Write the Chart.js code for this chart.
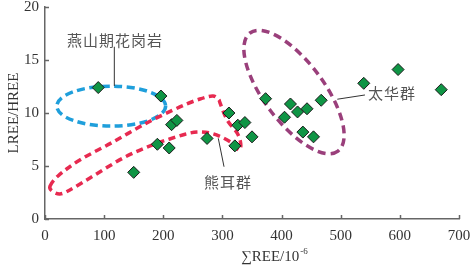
<!DOCTYPE html>
<html>
<head>
<meta charset="utf-8">
<script src="https://cdn.jsdelivr.net/npm/chart.js@4.4.1/dist/chart.umd.min.js"></script>
<style>
html,body{margin:0;padding:0;background:#fff;}
#wrap{width:472px;height:266px;}
</style>
</head>
<body>
<div id="wrap"><canvas id="c" width="472" height="266"></canvas></div>
<script>
// ---- data ----
const sumREE = [90,196,214,223,150,190,210,274,321,311,326,338,350,373,405,415,427,443,467,436,454,539,597,670];
const lreeHree = [12.4,11.6,8.9,9.3,4.4,7.05,6.7,7.6,6.9,10.0,8.85,9.1,7.75,11.35,9.6,10.85,10.1,10.4,11.2,8.2,7.75,12.8,14.1,12.2];
const xTicks = [0,100,200,300,400,500,600,700];
const yTicks = [0,5,10,15,20];

// group labels
const groupNames = ['燕山期花岗岩','熊耳群','太华群'];

// red (熊耳群) outline vertices, data units
const xiongerOutlineX = [8.5,22,59,115,172,228,262,284,294,296,308,325,331,328,316,298,279,257,237,211,181,132,76,42,25,12];
const xiongerOutlineY = [3.1,4.06,5.57,7.26,9.06,10.57,11.32,11.6,11.23,10.94,9.34,8.1,7.08,6.5,7.17,7.74,8.11,8.21,8.0,7.55,6.98,5.75,3.87,2.74,2.36,2.64];

// ellipses: centre in data units, radii in x-axis units, rotation in degrees
const yanshanEllipse = {cx:112, cy:10.65, rx:92, ry:33.8, rot:0};
const taihuaEllipse  = {cx:421, cy:11.98, rx:124.5, ry:50.7, rot:53.3};

// leader lines [x1,y1,x2,y2] in data units and label anchors
const leaderLines = [[117.2,16.25,117.2,12.55],[293,7.61,302.7,4.93],[494.2,11.3,541,11.7]];
const labelAnchors = [[118.4,16.9,'center'],[309.4,3.5,'center'],[546,11.86,'left']];

const annot = {
  id:'annot',
  beforeDatasetsDraw(chart){
    const {ctx, scales:{x,y}} = chart;
    const ux = Math.abs(x.getPixelForValue(1)-x.getPixelForValue(0));
    ctx.save();
    const drawEllipse = (e,color,dash)=>{
      ctx.beginPath();
      ctx.ellipse(x.getPixelForValue(e.cx), y.getPixelForValue(e.cy), e.rx*ux, e.ry*ux, e.rot*Math.PI/180, 0, Math.PI*2);
      ctx.strokeStyle=color; ctx.lineWidth=3.5; ctx.setLineDash(dash); ctx.stroke();
    };
    drawEllipse(yanshanEllipse,'#1f9fdb',[8,4.5]);
    drawEllipse(taihuaEllipse,'#9a3f7b',[8,5]);
    // red closed smooth outline (Catmull-Rom)
    const pts = xiongerOutlineX.map((v,i)=>[x.getPixelForValue(v), y.getPixelForValue(xiongerOutlineY[i])]);
    const n = pts.length;
    ctx.beginPath();
    ctx.moveTo(pts[0][0],pts[0][1]);
    for(let i=0;i<n;i++){
      const p0=pts[(i-1+n)%n], p1=pts[i], p2=pts[(i+1)%n], p3=pts[(i+2)%n];
      ctx.bezierCurveTo(p1[0]+(p2[0]-p0[0])/6, p1[1]+(p2[1]-p0[1])/6,
                        p2[0]-(p3[0]-p1[0])/6, p2[1]-(p3[1]-p1[1])/6, p2[0], p2[1]);
    }
    ctx.closePath();
    ctx.strokeStyle='#e72a50'; ctx.lineWidth=3.5; ctx.setLineDash([7,4.5]); ctx.stroke();
    // leader lines
    ctx.setLineDash([]);
    ctx.strokeStyle='#333'; ctx.lineWidth=1;
    leaderLines.forEach(l=>{
      ctx.beginPath();
      ctx.moveTo(x.getPixelForValue(l[0]), y.getPixelForValue(l[1]));
      ctx.lineTo(x.getPixelForValue(l[2]), y.getPixelForValue(l[3]));
      ctx.stroke();
    });
    // group labels
    ctx.fillStyle='#555';
    ctx.font='15px "Noto Sans CJK SC"';
    ctx.letterSpacing='1px';
    ctx.textBaseline='middle';
    labelAnchors.forEach((a,i)=>{
      ctx.textAlign=a[2];
      ctx.fillText(groupNames[i], x.getPixelForValue(a[0]), y.getPixelForValue(a[1]));
    });
    ctx.restore();
  },
  afterDraw(chart){
    const {ctx, scales:{x,y}} = chart;
    ctx.save();
    ctx.strokeStyle='#666'; ctx.lineWidth=1.5;
    xTicks.forEach(v=>{
      const px=Math.round(x.getPixelForValue(v))+0.5;
      ctx.beginPath(); ctx.moveTo(px, y.bottom); ctx.lineTo(px, y.bottom-4); ctx.stroke();
    });
    yTicks.forEach(v=>{
      const py=Math.round(y.getPixelForValue(v))+0.5;
      ctx.beginPath(); ctx.moveTo(x.left, py); ctx.lineTo(x.left+4, py); ctx.stroke();
    });
    // x axis title with superscript
    ctx.fillStyle='#333';
    ctx.textBaseline='alphabetic';
    ctx.textAlign='left';
    const main='∑REE/10', sup='-6';
    ctx.font='15px "Liberation Serif"';
    const w1=ctx.measureText(main).width;
    ctx.font='9px "Liberation Serif"';
    const w2=ctx.measureText(sup).width;
    const cx=x.getPixelForValue(387);
    const sx=cx-(w1+w2)/2;
    ctx.font='15px "Liberation Serif"';
    ctx.fillText(main, sx, 261);
    ctx.font='9px "Liberation Serif"';
    ctx.fillText(sup, sx+w1+1, 254);
    ctx.restore();
  }
};

const tickFont = {family:'"Liberation Serif"', size:15};
new Chart(document.getElementById('c'), {
  type:'scatter',
  data:{datasets:[{
    data: sumREE.map((v,i)=>({x:v, y:lreeHree[i]})),
    pointStyle:'rectRot', pointRadius:6, pointHoverRadius:6,
    backgroundColor:'#0f9545', borderColor:'#1a1a1a', borderWidth:1
  }]},
  options:{
    responsive:false, animation:false,
    layout:{padding:{top:7,right:13,left:0,bottom:0}},
    plugins:{legend:{display:false}, tooltip:{enabled:false}},
    scales:{
      x:{type:'linear', min:0, max:700,
        afterBuildTicks: s=>{ s.ticks = xTicks.map(v=>({value:v})); },
        ticks:{font:tickFont, color:'#333', padding:8, maxRotation:0},
        grid:{display:true, drawOnChartArea:false, drawTicks:false},
        border:{display:true, color:'#666', width:1.5},
        afterFit: s=>{ s.height=47; s.paddingLeft=0; s.paddingRight=0; }
      },
      y:{type:'linear', min:0, max:20,
        afterBuildTicks: s=>{ s.ticks = yTicks.map(v=>({value:v})); },
        ticks:{font:tickFont, color:'#333', padding:6},
        grid:{display:true, drawOnChartArea:false, drawTicks:false},
        border:{display:true, color:'#666', width:1.5},
        title:{display:true, text:'LREE/HREE', font:tickFont, color:'#333', padding:{top:5,bottom:0}},
        afterFit: s=>{ s.width=45; s.paddingTop=0; s.paddingBottom=0; }
      }
    }
  },
  plugins:[annot]
});
</script>
</body>
</html>
